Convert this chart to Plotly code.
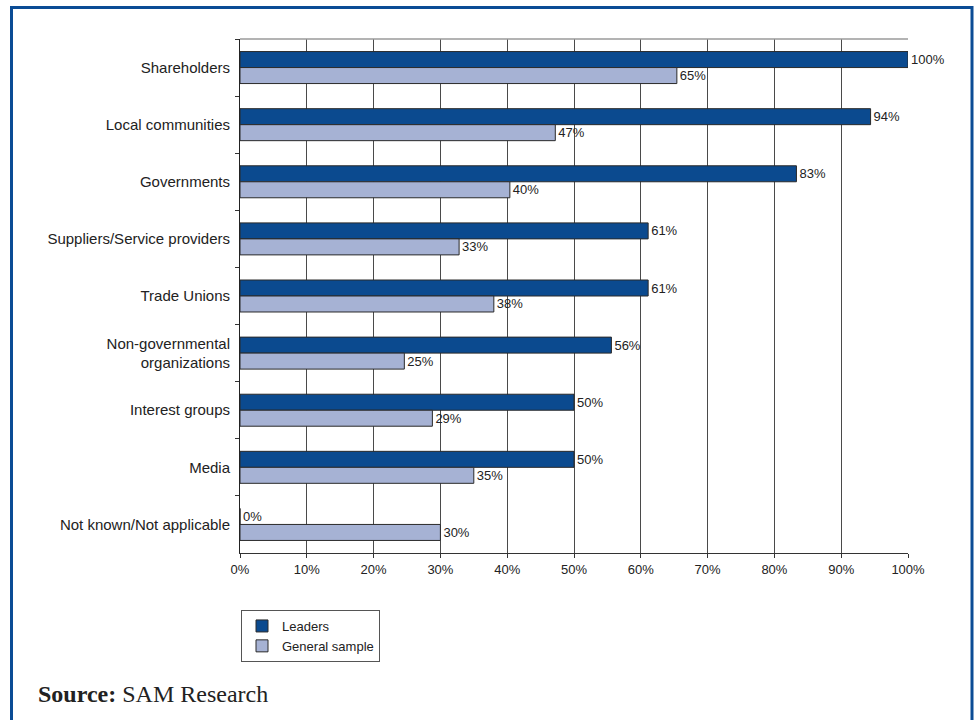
import plotly.graph_objects as go

categories = ["Shareholders", "Local communities", "Governments", "Suppliers/Service providers",
              "Trade Unions", "Non-governmental<br>organizations", "Interest groups", "Media",
              "Not known/Not applicable"]
leaders = [100, 94.4, 83.3, 61.1, 61.1, 55.6, 50, 50, 0]
general = [65.4, 47.2, 40.4, 32.8, 38, 24.6, 28.8, 35, 30]
x_ticks = [0, 10, 20, 30, 40, 50, 60, 70, 80, 90, 100]
x_tick_labels = [f"{v}%" for v in x_ticks]

W, H = 974, 720
L, R, T, B = 240, 908, 39, 553

def px(x):
    return (x - L) / (R - L)

def py(y):
    return (B - y) / (B - T)

fig = go.Figure()
fig.add_trace(go.Bar(
    y=categories, x=leaders, orientation="h", name="Leaders",
    marker=dict(color="#0b4a8f", line=dict(color="#2a2a2a", width=1)),
    text=[f"{round(v)}%" for v in leaders], textposition="outside",
    textfont=dict(family="Arial, Liberation Sans, sans-serif", size=13, color="#222"),
    constraintext="none", cliponaxis=False,
))
fig.add_trace(go.Bar(
    y=categories, x=general, orientation="h", name="General sample",
    marker=dict(color="#a6b2d4", line=dict(color="#2a2a2a", width=1)),
    text=[f"{round(v)}%" for v in general], textposition="outside",
    textfont=dict(family="Arial, Liberation Sans, sans-serif", size=13, color="#222"),
    constraintext="none", cliponaxis=False,
))

fig.update_layout(
    width=W, height=H,
    margin=dict(l=L, r=W - R, t=T, b=H - B, autoexpand=False),
    paper_bgcolor="white", plot_bgcolor="white",
    barmode="group", bargap=0.44, bargroupgap=0,
    font=dict(family="Arial, Liberation Sans, sans-serif", color="#222"),
    showlegend=True,
    legend=dict(x=px(241), y=py(610), xanchor="left", yanchor="top",
                bordercolor="#555", borderwidth=1, bgcolor="white",
                font=dict(size=13, color="#222"), traceorder="normal",
                itemwidth=30, tracegroupgap=0),
    xaxis=dict(range=[0, 100], tickvals=x_ticks, ticktext=x_tick_labels,
               showgrid=True, gridcolor="#4a4a4a", gridwidth=1, zeroline=False,
               showline=True, linecolor="#333", linewidth=1,
               ticks="outside", ticklen=4, tickcolor="#333",
               tickfont=dict(size=13, color="#222")),
    yaxis=dict(categoryorder="array", categoryarray=categories, autorange="reversed",
               showline=True, linecolor="#222", linewidth=1,
               ticks="outside", ticklen=4, tickcolor="#333", tickson="boundaries",
               showgrid=False, tickfont=dict(size=15, color="#222"), ticklabelstandoff=6),
    shapes=[
        dict(type="line", xref="paper", yref="paper", x0=0, x1=1, y0=1, y1=1,
             line=dict(color="#9a9a9a", width=1.5)),
        dict(type="rect", xref="paper", yref="paper",
             x0=px(11.5), x1=px(972), y0=py(7.5), y1=py(730),
             line=dict(color="#0b4c95", width=3), layer="below"),
    ],
    annotations=[
        dict(xref="paper", yref="paper", x=px(36), y=py(694), xanchor="left", yanchor="middle",
             showarrow=False,
             text="<b>Source:</b> SAM Research",
             font=dict(family="Liberation Serif, Times New Roman, serif", size=24, color="#222")),
    ],
)

fig.write_html("out.html")
